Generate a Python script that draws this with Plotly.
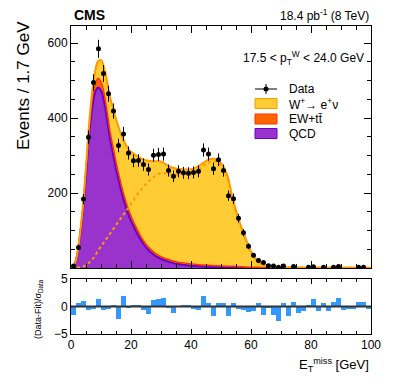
import numpy as np
import plotly.graph_objects as go

# binned data: 60 bins of 1.67 GeV between 0 and 100 GeV
n_bins = 60
x_lo, x_hi = 0.0, 100.0
data_counts = [
    5, 55, 184, 349, 495, 585, 519, 465, 419, 327,
    358, 307, 286, 287, 276, 263, 301, 303, 304, 260,
    245, 258, 254, 253, 255, 258, 315, 304, 265, 289,
    260, 193, 185, 133, 94, 58, 34, 20, 15, 6,
    5, 2, 5, 0, 4, 0, 0, 2, 3, 0,
    2, 0, 2, 4, 0, 0, 0, 2, 2, 0,
]
pulls = [
    -1.5, 0.6, 1.0, -0.6, -0.4, 1.3, -0.7, -0.5, 0.1, -2.2,
    1.9, -0.2, 0.3, 0.1, -0.6, -1.4, 1.1, 1.3, 1.6, -0.3,
    -1.2, 0.0, 0.1, 0.1, -0.5, -0.6, 2.0, 0.7, -1.8, 0.7,
    0.6, -1.8, 0.6, -0.4, -0.6, -1.0, -0.9, 0.7, -1.5, -0.3,
    -1.5, -2.7, 0.7, -1.8, 0.8, -1.2, -0.9, 0.1, 1.4, -0.9,
    0.7, -0.8, 0.8, 1.5, -0.6, -0.5, -0.5, 0.8, 0.8, -0.5,
]

# fit components (GeV, events per bin)
fit_x = [0, 1, 2, 3, 4, 5, 6, 7, 8, 9, 10, 11, 12, 13, 14, 15, 16, 17, 18, 19,
         20, 22, 24, 26, 28, 30, 32, 34, 36, 38, 40, 42, 44, 46, 48, 50, 52, 54,
         56, 58, 60, 62, 64, 66, 68, 70, 75, 80, 90, 100]
fit_qcd = [0, 6, 32, 85, 155, 250, 350, 425, 468, 482, 474, 445, 398, 345, 305,
           265, 230, 198, 170, 146, 126, 93, 66, 46, 33, 24, 18, 13, 10, 8, 6, 5,
           4, 3.2, 2.6, 2.1, 1.7, 1.4, 1.1, 0.9, 0.7, 0.6, 0.5, 0.4, 0.35, 0.3,
           0.2, 0.15, 0.1, 0.05]
fit_ew = [0, 0.5, 2, 5, 9, 13, 17, 20, 22, 24, 23, 22, 21, 20, 19, 18, 17, 16,
          15, 14, 13, 11, 9, 8, 7, 6.5, 6, 5.5, 5, 5, 4.5, 4.5, 4, 4, 3.5, 3.5, 3,
          3, 2.5, 2, 1.5, 1.2, 1, 0.8, 0.6, 0.5, 0.4, 0.3, 0.2, 0.1]
fit_w = [0, 0, 0.5, 2, 4, 8, 14, 22, 33, 46, 58, 69, 80, 91, 103, 115, 126, 137,
         148, 159, 171, 195, 215, 232, 245, 254, 251, 249, 249, 250, 253, 260,
         272, 283, 285, 274, 245, 178, 124, 80, 42, 19, 7.5, 3, 1.8, 1.4, 1.1,
         1.0, 0.9, 0.8]

bin_w = (x_hi - x_lo) / n_bins
centers = x_lo + bin_w * (np.arange(n_bins) + 0.5)
counts = np.array(data_counts, dtype=float)
has = counts > 0

FONT = "Liberation Sans"
C_W, C_W_LINE = "#FFCC33", "#FF9900"
C_EW, C_EW_LINE = "#FF6600", "#FF3300"
C_QCD, C_QCD_LINE = "#9933CC", "#6600CC"

fig = go.Figure()

# stacked fit
fig.add_trace(go.Scatter(x=fit_x, y=fit_qcd, stackgroup="fit", mode="lines",
                         line=dict(color=C_QCD_LINE, width=2, shape="spline"),
                         fillcolor=C_QCD, showlegend=False))
fig.add_trace(go.Scatter(x=fit_x, y=fit_ew, stackgroup="fit", mode="lines",
                         line=dict(color=C_EW_LINE, width=1.5, shape="spline"),
                         fillcolor=C_EW, showlegend=False))
fig.add_trace(go.Scatter(x=fit_x, y=fit_w, stackgroup="fit", mode="lines",
                         line=dict(color=C_W_LINE, width=2, shape="spline"),
                         fillcolor=C_W, showlegend=False))
# signal alone
fig.add_trace(go.Scatter(x=fit_x, y=fit_w, mode="lines",
                         line=dict(color=C_W_LINE, width=2, dash="dot", shape="spline"),
                         showlegend=False))
# data
fig.add_trace(go.Scatter(x=centers[has], y=counts[has], mode="markers",
                         marker=dict(color="black", size=5),
                         error_y=dict(type="data", array=np.sqrt(counts[has]),
                                      width=0, thickness=1, color="black"),
                         showlegend=False))

# pulls
fig.add_trace(go.Bar(x=centers, y=pulls, width=bin_w, xaxis="x2", yaxis="y2",
                     marker=dict(color="#3399FF", line=dict(width=0)),
                     showlegend=False))

axis_common = dict(showline=True, linecolor="black", linewidth=1, mirror="allticks",
                   ticks="inside", tickcolor="black", showgrid=False, zeroline=False,
                   tickfont=dict(family=FONT, size=12, color="black"))

# the page body adds an 8 px offset, so the figure is 8 px smaller and shifted
fig.update_layout(
    width=391, height=379,
    margin=dict(l=63, r=28, t=18, b=53),
    paper_bgcolor="white", plot_bgcolor="white",
    font=dict(family=FONT, color="black"),
    bargap=0,
    xaxis=dict(domain=[0, 1], anchor="y", range=[0, 100], dtick=20, ticklen=7,
               showticklabels=False, minor=dict(dtick=5, ticklen=4, ticks="inside"),
               **axis_common),
    yaxis=dict(domain=[0.2143, 1], anchor="x", range=[0, 646], tickvals=[200, 400, 600],
               ticklen=7, minor=dict(dtick=50, ticklen=4, ticks="inside"), **axis_common),
    xaxis2=dict(domain=[0, 1], anchor="y2", range=[0, 100], dtick=20, ticklen=5,
                minor=dict(dtick=5, ticklen=3, ticks="inside"), **axis_common),
    yaxis2=dict(domain=[0, 0.1786], anchor="x2", range=[-5, 5], tickvals=[-5, 0, 5],
                ticklen=5, **axis_common),
)

fig.add_shape(type="line", xref="x2", yref="y2", x0=0, x1=100, y0=0, y1=0,
              line=dict(color="#333333", width=2))


def px(xp):
    return (xp - 71) / 300


def py(yp):
    return (334 - yp) / 308


ann = [
    dict(text="<b>CMS</b>", x=px(72), y=py(15), xanchor="left", size=14),
    dict(text="18.4 pb<sup>-1</sup> (8 TeV)", x=px(371), y=py(15.5), xanchor="right", size=12),
    dict(text="17.5 < p<sub>T</sub><sup>W</sup> < 24.0 GeV", x=px(366), y=py(58),
         xanchor="right", size=12),
    dict(text="E<sub>T</sub><sup>miss</sup> [GeV]", x=px(371), y=py(365), xanchor="right", size=13),
    dict(text="Data", x=px(287), y=py(89), xanchor="left", size=12),
    dict(text="W<sup>+</sup>\u2192 e<sup>+</sup>\u03bd", x=px(287), y=py(103.5), xanchor="left", size=12),
    dict(text="EW+tt\u0304", x=px(287), y=py(119), xanchor="left", size=12),
    dict(text="QCD", x=px(287), y=py(133.5), xanchor="left", size=12),
]
for a in ann:
    fig.add_annotation(text=a["text"], x=a["x"], y=a["y"], xref="paper", yref="paper",
                       xanchor=a["xanchor"], yanchor="middle", showarrow=False,
                       font=dict(family=FONT, size=a["size"], color="black"))

fig.add_annotation(text="Events / 1.7 GeV", x=px(24), y=py(86), xref="paper", yref="paper",
                   textangle=-90, showarrow=False, xanchor="center", yanchor="middle",
                   font=dict(family=FONT, size=17, color="black"))
fig.add_annotation(text="(Data-Fit)/\u03c3<sub>Data</sub>", x=px(38), y=py(309),
                   xref="paper", yref="paper", textangle=-90, showarrow=False,
                   xanchor="center", yanchor="middle",
                   font=dict(family=FONT, size=9, color="black"))

# legend symbols
fig.add_shape(type="line", xref="paper", yref="paper", x0=px(255), x1=px(277),
              y0=py(89), y1=py(89), line=dict(color="black", width=1))
fig.add_shape(type="line", xref="paper", yref="paper", x0=px(266), x1=px(266),
              y0=py(84), y1=py(94), line=dict(color="black", width=1))
fig.add_shape(type="circle", xref="paper", yref="paper", x0=px(263.5), x1=px(268.5),
              y0=py(86.5), y1=py(91.5), fillcolor="black", line=dict(color="black", width=0))
for yc, fc, lc in [(103.5, C_W, C_W_LINE), (119, C_EW, C_EW_LINE), (133.5, C_QCD, C_QCD_LINE)]:
    fig.add_shape(type="rect", xref="paper", yref="paper", x0=px(255), x1=px(277),
                  y0=py(yc - 5), y1=py(yc + 5), fillcolor=fc, line=dict(color=lc, width=1))

fig.write_html("out.html")
